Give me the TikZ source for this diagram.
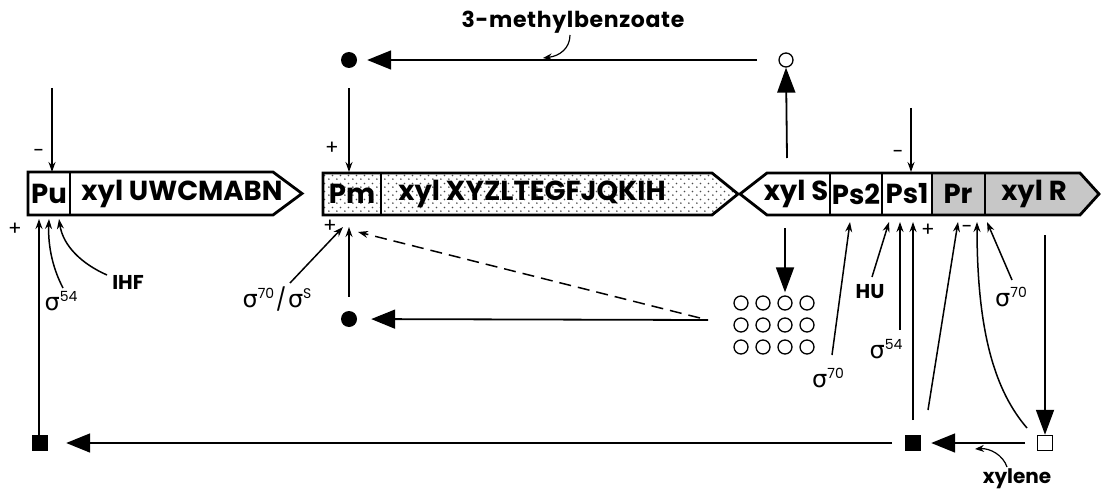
\documentclass[tikz,border=0pt]{standalone}
\usepackage{fontspec}
\setmainfont{Poppins}
\newfontfamily\grk{DejaVu Sans}
\usetikzlibrary{arrows.meta,patterns}
\pgfdeclarepatternformonly{sparsedots}{\pgfpointorigin}{\pgfpoint{8pt}{8pt}}{\pgfpoint{8pt}{8pt}}{%
  \pgfpathcircle{\pgfpoint{1pt}{1pt}}{1pt}\pgfpathcircle{\pgfpoint{5pt}{5pt}}{1pt}\pgfusepath{fill}}
\newcommand\sg[1]{{\fontsize{24}{24}\selectfont\grk σ}{\fontsize{14}{14}\selectfont\raisebox{9pt}{#1}}}
\begin{document}
\begin{tikzpicture}[x=1pt,y=-1pt,
  gene/.style={line width=2.8pt,line join=miter},
  glabel/.style={font=\fontsize{27.5}{27.5}\selectfont\bfseries,inner sep=0pt},
  small/.style={font=\fontsize{20}{20}\selectfont\bfseries,inner sep=0pt},
  thin/.style={line width=1.5pt,-{Stealth[length=10pt,width=7pt]}},
  big/.style={line width=1.8pt,-{Triangle[length=24pt,width=19pt]}},
  bigv/.style={line width=1.8pt,-{Triangle[length=25pt,width=18pt]}},
  sign/.style={font=\fontsize{20}{20}\selectfont,inner sep=0pt},
  fcirc/.style={circle,fill=black,minimum size=16pt,inner sep=0pt},
  ocircs/.style={circle,draw=black,line width=1.3pt,minimum size=14pt,inner sep=0pt},
  fsq/.style={rectangle,fill=black,minimum size=16pt,inner sep=0pt},
  osq/.style={rectangle,draw=black,line width=1.5pt,fill=white,minimum size=15pt,inner sep=0pt}]
\useasboundingbox[fill=white] (0,0) rectangle (1102,492);

% ---------- gene 1 ----------
\draw[gene] (28,172) -- (273,172) -- (302,193.5) -- (273,215) -- (28,215) -- cycle;
\draw[gene] (70,172) -- (70,215);
\node[glabel] (pu) at (49,194) {Pu};
\node[glabel] (xylU) at (182,194) {xyl UWCMABN};

% ---------- gene 2 ----------
\fill[white] (323,173) -- (712,173) -- (738,194) -- (712,215) -- (323,215) -- cycle;
\fill[pattern=sparsedots,pattern color=black!70] (323,173) -- (712,173) -- (738,194) -- (712,215) -- (323,215) -- cycle;
\draw[gene] (323,173) -- (712,173) -- (738,194) -- (712,215) -- (323,215) -- cycle;
\draw[gene] (381,173) -- (381,215);
\node[glabel] (pm) at (352,194) {Pm};
\node[glabel] (xylX) at (532,194) {xyl XYZLTEGFJQKIH};

% ---------- gene 3 ----------
\fill[black!22] (932,173) -- (1080,173) -- (1099,194) -- (1080,215) -- (932,215) -- cycle;
\draw[gene] (740,194) -- (767,173) -- (1080,173) -- (1099,194) -- (1080,215) -- (767,215) -- cycle;
\foreach \x in {830,882,932,985} \draw[gene] (\x,173) -- (\x,215);
\node[glabel] (xylS) at (796,194) {xyl S};
\node[glabel] (ps2) at (856,194) {Ps2};
\node[glabel] (ps1) at (907,194) {Ps1};
\node[glabel] (pr) at (958,194) {Pr};
\node[glabel] (xylR) at (1034,194) {xyl R};

% ---------- molecules ----------
\node[fcirc] (mbtop) at (349,60) {};
\node[ocircs,minimum size=14pt] (otop) at (786,60) {};
\node[fcirc] (mbbot) at (349,319) {};
\foreach \i/\x in {1/741,2/763,3/785,4/807}
  \foreach \j/\y in {1/303,2/325,3/347}
    \node[ocircs] (g\i\j) at (\x,\y) {};
\node[fsq] (sqL) at (40,443) {};
\node[fsq] (sqR) at (913,443) {};
\node[osq] (sqO) at (1045,443) {};

% ---------- labels ----------
\node[small,font=\fontsize{22}{22}\selectfont\bfseries\addfontfeatures{LetterSpace=3}] (mb) at (573,22) {3-methylbenzoate};
\node[small] (xylene) at (1017,479) {xylene};
\node[small] (ihf) at (128,282) {IHF};
\node[small] (hu) at (870,292) {HU};
\node[inner sep=0pt] (s54L) at (61,301) {\sg{54}};
\node[inner sep=0pt] (s70S) at (277,299) {\sg{70}\,{\fontsize{22}{22}\selectfont /}\,\sg{S}};
\node[inner sep=0pt] (s70a) at (828,378) {\sg{70}};
\node[inner sep=0pt] (s54R) at (886,349) {\sg{54}};
\node[inner sep=0pt] (s70b) at (1011,297) {\sg{70}};

\node[sign] at (39,153) {-};
\node[sign] at (15,229) {+};
\node[sign] at (332,148) {+};
\node[sign] at (330,226) {+};
\node[sign] at (898,154) {-};
\node[sign] at (928,230) {+};
\node[sign] at (967,229) {-};

% ---------- connector ends ----------
\coordinate (puT) at (52,172);
\coordinate (puB1) at (39,219);
\coordinate (puB2) at (49,219);
\coordinate (puB3) at (59,219);
\coordinate (pmT) at (349,172);
\coordinate (pmB1) at (343,227);
\coordinate (pmB2) at (349,227);
\coordinate (pmB3) at (358,232);
\coordinate (ps2B) at (850,222);
\coordinate (ps1T) at (911,172);
\coordinate (ps1B1) at (889,222);
\coordinate (ps1B2) at (900,222);
\coordinate (ps1B3) at (913,222);
\coordinate (prB1) at (958,222);
\coordinate (prB2) at (977,222);
\coordinate (prB3) at (987,222);

\coordinate (puTs) at (52,88);
\coordinate (ps1Ts) at (911,108);
\coordinate (sqLt) at (39,435);
\coordinate (s54Ls) at (63,288);
\coordinate (ihfs) at (107,275);
\coordinate (s70Ss) at (290,283);
\coordinate (dashs) at (700,318);
\coordinate (gridw) at (708,320);
\coordinate (otopw) at (757,60);
\coordinate (xsT) at (787,158);
\coordinate (xsB) at (785,228);
\coordinate (s70as) at (832,355);
\coordinate (hus) at (872,277);
\coordinate (s54Rs) at (900,330);
\coordinate (sqRt) at (913,420);
\coordinate (sqRs) at (928,410);
\coordinate (sqOs) at (1027,428);
\coordinate (s70bs) at (1012,280);
\coordinate (xrB) at (1045,235);
\coordinate (sqOw) at (1025,443);
\coordinate (sqRw) at (892,443);
\coordinate (xyls) at (1007,467);
\coordinate (xyle) at (975,449);
\coordinate (mbs) at (570,35);
\coordinate (mbe) at (543,58);

% ---------- connectors ----------
\draw[thin] (puTs) -- (puT);
\draw[thin] (ps1Ts) -- (ps1T);
\draw[thin,shorten <=20pt] (mbtop) -- (pmT);

\draw[thin] (sqLt) -- (puB1);
\draw[thin] (s54Ls) .. controls (51,265) and (48,242) .. (puB2);
\draw[thin] (ihfs) .. controls (82,264) and (63,246) .. (puB3);

\draw[thin] (s70Ss) -- (pmB1);
\draw[thin,shorten <=14pt] (mbbot) -- (pmB2);
\draw[thin,dashed,dash pattern=on 12pt off 7pt] (dashs) -- (pmB3);

\draw[big,shorten >=10pt] (otopw) -- (mbtop);
\draw[bigv] (xsT) -- (otop.south);
\draw[bigv,shorten >=3pt] (xsB) -- (g31.north);
\draw[big,shorten >=14pt] (gridw) -- (mbbot);

\draw[thin] (s70as) -- (ps2B);
\draw[thin] (hus) -- (ps1B1);
\draw[thin] (s54Rs) -- (ps1B2);
\draw[thin] (sqRt) -- (ps1B3);
\draw[thin] (sqRs) -- (prB1);
\draw[thin] (sqOs) .. controls (996,392) and (977,335) .. (prB2);
\draw[thin] (s70bs) -- (prB3);

\draw[bigv] (xrB) -- (sqO.north);
\draw[big,shorten >=10pt] (sqOw) -- (sqR);
\draw[big,shorten >=18pt] (sqRw) -- (sqL);

\draw[line width=1.2pt,-{Stealth[length=9pt,width=7pt]}] (xyls) .. controls (1003,455) and (990,448) .. (xyle);
\draw[line width=1.2pt,-{Stealth[length=9pt,width=7pt]}] (mbs) .. controls (570,48) and (560,56) .. (mbe);
\end{tikzpicture}
\end{document}
